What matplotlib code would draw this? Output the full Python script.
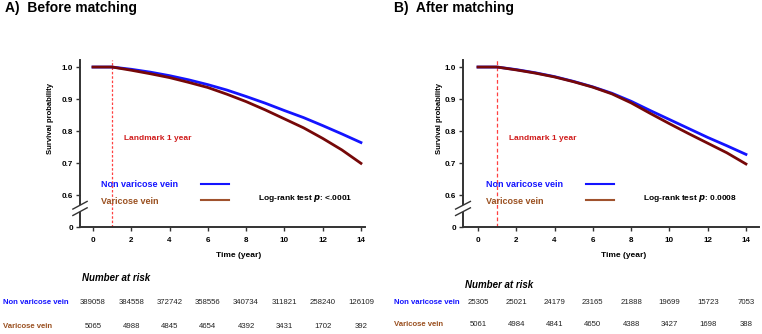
import matplotlib.pyplot as plt
import matplotlib.transforms as mtransforms

plt.rcParams['font.family'] = ['Liberation Sans', 'DejaVu Sans']

# survival curves, one value per year (0..14)
years = [0, 1, 2, 3, 4, 5, 6, 7, 8, 9, 10, 11, 12, 13, 14]
before_non = [1.0, 1.0, 0.993, 0.984, 0.973, 0.960, 0.945, 0.928, 0.908,
              0.887, 0.864, 0.842, 0.817, 0.791, 0.764]
before_var = [1.0, 1.0, 0.990, 0.979, 0.967, 0.952, 0.936, 0.915, 0.892,
              0.866, 0.838, 0.810, 0.777, 0.741, 0.699]
after_non = [1.0, 1.0, 0.992, 0.982, 0.970, 0.955, 0.938, 0.918, 0.893,
             0.864, 0.836, 0.808, 0.780, 0.754, 0.727]
after_var = [1.0, 1.0, 0.991, 0.981, 0.969, 0.954, 0.937, 0.916, 0.888,
             0.855, 0.823, 0.792, 0.762, 0.732, 0.697]

risk_times = [0, 2, 4, 6, 8, 10, 12, 14]
risk_before_non = [389058, 384558, 372742, 358556, 340734, 311821, 258240, 126109]
risk_before_var = [5065, 4988, 4845, 4654, 4392, 3431, 1702, 392]
risk_after_non = [25305, 25021, 24179, 23165, 21888, 19699, 15723, 7053]
risk_after_var = [5061, 4984, 4841, 4650, 4388, 3427, 1698, 388]

yticks = [0.5, 0.6, 0.7, 0.8, 0.9, 1.0]
ytick_labels = ['0', '0.6', '0.7', '0.8', '0.9', '1.0']
xticks = [0, 2, 4, 6, 8, 10, 12, 14]

BLUE = '#1414ff'
MAROON = '#760808'
BROWN = '#a0522d'
BROWN_TXT = '#9a5020'
RED = '#d01c1c'
GREY = '#333333'

W, H = 762, 334
fig = plt.figure(figsize=(W / 100, H / 100), dpi=100)


def fx(px):
    return px / W


def fy(py):
    return 1 - py / H


def panel(left, right, t0, title, title_x, non, var, pval, lm_style,
          lab_x, nar_y, row1_y, row2_y, risk_non, risk_var, ylab_x):
    top, bottom = 60, 227
    ax = fig.add_axes([fx(left), fy(bottom), fx(right - left), (bottom - top) / H])
    per_year = 19.14
    ax.set_xlim((left - t0) / per_year, (right - t0) / per_year)
    ax.set_ylim(0.5, 1.022)
    ax.patch.set_alpha(0)

    ax.plot(years, non, color=BLUE, lw=2.0, zorder=3)
    ax.plot(years, var, color=MAROON, lw=2.0, zorder=4)
    ax.axvline(1, ymin=0, ymax=1, color='#ff4040', lw=0.9, ls=lm_style, zorder=2)

    for s in ['top', 'right', 'left']:
        ax.spines[s].set_visible(False)
    ax.spines['bottom'].set_linewidth(1.4)
    ax.spines['bottom'].set_color(GREY)

    # broken left axis
    tr = mtransforms.blended_transform_factory(ax.transAxes, ax.transData)
    ax.plot([0, 0], [0.5, 0.545], color=GREY, lw=1.4, transform=tr, clip_on=False)
    ax.plot([0, 0], [0.572, 1.022], color=GREY, lw=1.4, transform=tr, clip_on=False)
    for yb in (0.548, 0.568):
        ax.plot([-0.025, 0.025], [yb - 0.012, yb + 0.012], color=GREY, lw=1.0,
                transform=tr, clip_on=False)

    ax.set_yticks(yticks)
    ax.set_yticklabels(ytick_labels)
    ax.set_xticks(xticks)
    ax.tick_params(axis='both', direction='out', length=3, width=1.0,
                   color=GREY, labelsize=5.8, pad=2)
    for lab in ax.get_xticklabels() + ax.get_yticklabels():
        lab.set_fontweight('bold')
    ax.tick_params(axis='x', pad=4)

    ax.set_ylabel('Survival probability', fontsize=5.5, fontweight='bold')
    ax.yaxis.set_label_coords((ylab_x + 5 - left) / (right - left),
                              (bottom - 118) / (bottom - top))
    ax.text(7.6, -0.17, 'Time (year)', transform=mtransforms.blended_transform_factory(
        ax.transData, ax.transAxes), ha='center', va='center', fontsize=6,
        fontweight='bold')

    ax.text(1.6, 0.778, 'Landmark 1 year', color=RED, fontsize=6,
            fontweight='bold', va='center')
    ax.text(0.4, 0.634, 'Non varicose vein', color=BLUE, fontsize=6.5,
            fontweight='bold', va='center')
    ax.text(0.4, 0.581, 'Varicose vein', color=BROWN_TXT, fontsize=6.5,
            fontweight='bold', va='center')
    ax.plot([5.65, 7.1], [0.634, 0.634], color=BLUE, lw=1.5)
    ax.plot([5.65, 7.1], [0.584, 0.584], color=BROWN, lw=1.5)
    ax.text(8.6, 0.59, 'Log-rank test $\\boldsymbol{p}$: ' + pval, fontsize=6,
            fontweight='bold', va='center')

    fig.text(fx(title_x), fy(8), title, fontsize=10, fontweight='bold', va='center')

    # number at risk table
    fig.text(fx(left + 2), fy(nar_y), 'Number at risk', fontsize=7,
             fontweight='bold', style='italic', va='center')
    fig.text(fx(lab_x), fy(row1_y), 'Non varicose vein', color=BLUE, fontsize=5.6,
             fontweight='bold', va='center')
    fig.text(fx(lab_x), fy(row2_y), 'Varicose vein', color=BROWN_TXT, fontsize=5.6,
             fontweight='bold', va='center')
    btr = mtransforms.blended_transform_factory(ax.transData, fig.transFigure)
    for t, a, b in zip(risk_times, risk_non, risk_var):
        ax.text(t, fy(row1_y), str(a), transform=btr, ha='center', va='center',
                fontsize=5.6, color='#222222', clip_on=False)
        ax.text(t, fy(row2_y), str(b), transform=btr, ha='center', va='center',
                fontsize=5.6, color='#222222', clip_on=False)
    return ax


panel(80, 365, 93, 'A)  Before matching', 5, before_non, before_var, '<.0001',
      (0, (2, 1.5)), 3, 278, 302, 326, risk_before_non, risk_before_var, 49)
panel(463, 759, 478, 'B)  After matching', 394, after_non, after_var,
      '0.0008', (0, (3, 2)), 394, 285, 302, 325, risk_after_non, risk_after_var, 438)

fig.savefig('out.png', dpi=100)
